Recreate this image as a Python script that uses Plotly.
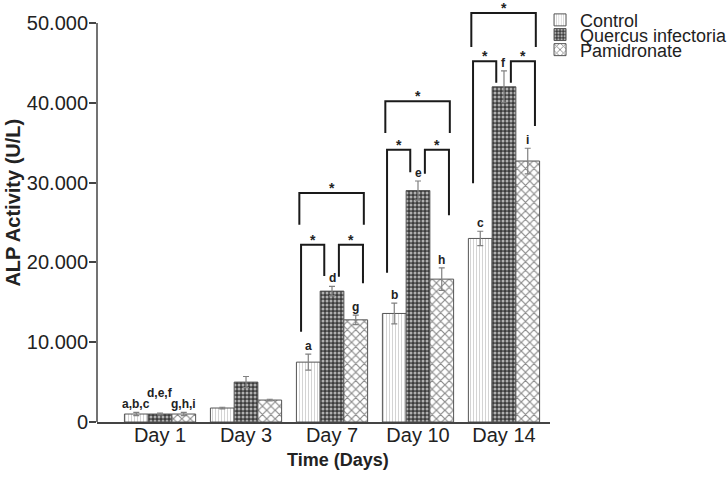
import plotly.graph_objects as go

days = ["Day 1", "Day 3", "Day 7", "Day 10", "Day 14"]
series_names = ["Control", "Quercus infectoria", "Pamidronate"]
control = [1.0, 1.75, 7.5, 13.6, 23.0]
control_err = [0.2, 0.1, 1.0, 1.3, 0.9]
quercus = [1.0, 5.0, 16.4, 29.0, 42.0]
quercus_err = [0.1, 0.7, 0.6, 1.2, 2.0]
pamidronate = [1.0, 2.75, 12.8, 17.9, 32.7]
pamidronate_err = [0.2, 0.1, 0.6, 1.4, 1.6]
letters_control = ["a,b,c", "", "a", "b", "c"]
letters_quercus = ["d,e,f", "", "d", "e", "f"]
letters_pamid = ["g,h,i", "", "g", "h", "i"]
ytick_vals = [0, 10, 20, 30, 40, 50]
ytick_text = ["0", "10.000", "20.000", "30.000", "40.000", "50.000"]

# significance brackets: day index, big top, big legs, small top,
# small-left legs (left, right), small-right legs (left, right)
bracket_days = [2, 3, 4]
big_top = [28.7, 40.2, 51.25]
big_leg = [24.7, 36.2, 47.0]
small_top = [22.2, 34.1, 45.2]
sl_left = [11.3, 18.7, 29.9]
sl_right = [18.3, 31.3, 42.5]
sr_left = [18.2, 31.1, 42.5]
sr_right = [17.4, 25.9, 37.1]

x = list(range(len(days)))
FONT = "Liberation Sans, Arial, sans-serif"
TXT = "#222222"

styles = [
    dict(shape="|", fgcolor="#cfcfcf", bgcolor="#ffffff", size=3, solidity=0.3),
    dict(shape=".", fgcolor="#b0b0b0", bgcolor="#3c3c3c", size=4, solidity=0.45),
    dict(shape="x", fgcolor="#8a8a8a", bgcolor="#ffffff", size=6, solidity=0.35),
]

fig = go.Figure()
for i, (name, vals, errs) in enumerate(zip(series_names,
                                            [control, quercus, pamidronate],
                                            [control_err, quercus_err, pamidronate_err])):
    st = styles[i]
    fig.add_trace(go.Bar(
        x=x, y=vals, name=name,
        legend="legend" if i == 0 else "legend%d" % (i + 1),
        marker=dict(color=st["bgcolor"],
                    line=dict(color="#555555", width=1),
                    pattern=dict(shape=st["shape"], fgcolor=st["fgcolor"],
                                 bgcolor=st["bgcolor"], size=st["size"],
                                 solidity=st["solidity"], fillmode="replace")),
        error_y=dict(type="data", array=errs, visible=True,
                     color="#808080", thickness=1.2, width=3),
    ))

BW = 0.276
offsets = [-BW, 0.0, BW]
annotations = []
for j, (labels, vals, errs) in enumerate(zip([letters_control, letters_quercus, letters_pamid],
                                              [control, quercus, pamidronate],
                                              [control_err, quercus_err, pamidronate_err])):
    for k, lab in enumerate(labels):
        if not lab:
            continue
        extra = 12 if (k == 0 and j == 1) else 0
        annotations.append(dict(x=x[k] + offsets[j], y=vals[k] + errs[k], text="<b>%s</b>" % lab,
                                showarrow=False, xanchor="center", yanchor="bottom",
                                yshift=-1 + extra, font=dict(family=FONT, size=12, color=TXT)))

shapes = []
BIG = (-0.38, 0.37)
SL = (-0.36, -0.09)
SR = (0.08, 0.36)
line = dict(color="#1a1a1a", width=2)
for d, bt, bl, st_, a, b, c, e in zip(bracket_days, big_top, big_leg, small_top,
                                      sl_left, sl_right, sr_left, sr_right):
    for (x1, x2), top, y1, y2 in [(BIG, bt, bl, bl), (SL, st_, a, b), (SR, st_, c, e)]:
        xa, xb = d + x1, d + x2
        shapes.append(dict(type="path", xref="x", yref="y",
                           path="M %f,%f L %f,%f L %f,%f L %f,%f" % (xa, y1, xa, top, xb, top, xb, y2),
                           line=line))
        annotations.append(dict(x=(xa + xb) / 2, y=top, text="<b>*</b>", showarrow=False,
                                xanchor="center", yanchor="bottom", yshift=-5,
                                font=dict(family=FONT, size=14, color=TXT)))

# y axis line only up to 50
shapes.append(dict(type="line", xref="paper", yref="y", x0=0, x1=0, y0=0, y1=50,
                   line=dict(color="#444444", width=1.5)))

annotations.append(dict(xref="paper", yref="paper", x=0.532, y=-0.063, text="<b>Time (Days)</b>",
                        showarrow=False, xanchor="center", yanchor="top",
                        font=dict(family=FONT, size=18, color=TXT)))
annotations.append(dict(xref="paper", yref="paper", x=-0.186, y=0.523,
                        text="<b>ALP Activity (U/L)</b>", textangle=-90,
                        showarrow=False, xanchor="center", yanchor="middle",
                        font=dict(family=FONT, size=20, color=TXT)))

leg_common = dict(x=0.978, xanchor="left", yanchor="middle", bgcolor="rgba(0,0,0,0)",
                  borderwidth=0, font=dict(family=FONT, size=18, color=TXT))

fig.update_layout(
    width=728, height=485,
    margin=dict(l=97, r=178, t=3, b=63, autoexpand=False),
    paper_bgcolor="white", plot_bgcolor="white",
    barmode="group", bargap=0.172, bargroupgap=0,
    showlegend=True,
    legend=dict(y=0.959, **leg_common),
    legend2=dict(y=0.924, **leg_common),
    legend3=dict(y=0.888, **leg_common),
    xaxis=dict(range=[-0.733, 4.535], tickvals=x, ticktext=days, showline=True,
               linecolor="#444444", linewidth=1.5, ticks="", showgrid=False, zeroline=False,
               ticklabelstandoff=-6,
               tickfont=dict(family=FONT, size=20, color=TXT)),
    yaxis=dict(range=[0, 52.5], tickvals=ytick_vals, ticktext=ytick_text, showline=False,
               ticks="outside", ticklen=7, tickcolor="#444444", tickwidth=1.5,
               showgrid=False, zeroline=False, ticklabelstandoff=-3,
               tickfont=dict(family=FONT, size=20, color=TXT)),
    shapes=shapes, annotations=annotations,
)

fig.write_html("out.html", config={"displayModeBar": False},
               post_script="document.body.style.margin='0px';")
